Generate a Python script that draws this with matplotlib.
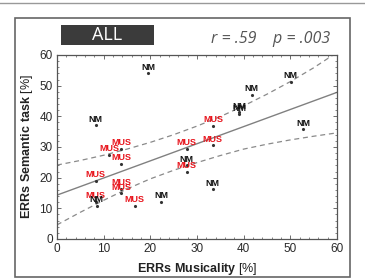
import matplotlib
matplotlib.use("Agg")
import matplotlib.pyplot as plt
from matplotlib.patches import Rectangle
from matplotlib.lines import Line2D
from matplotlib.ticker import MultipleLocator

plt.rcParams['font.family'] = ['Liberation Sans', 'DejaVu Sans']
plt.rcParams['mathtext.fontset'] = 'custom'
plt.rcParams['mathtext.rm'] = 'Liberation Sans'
plt.rcParams['mathtext.bf'] = 'Liberation Sans:bold'

# musicians
mus_x = [33.5, 33.4, 27.8, 27.8, 13.8, 11.2, 13.8, 8.3, 13.8, 13.8, 16.7, 8.3]
mus_y = [37.0, 30.5, 29.3, 21.8, 29.3, 27.4, 24.6, 19.0, 16.3, 14.9, 10.9, 12.2]
# non-musicians
nm_x = [19.5, 8.3, 39.0, 39.1, 41.7, 50.1, 52.8, 27.8, 33.4, 22.4, 8.5]
nm_y = [54.0, 37.1, 41.3, 40.6, 46.9, 51.2, 35.7, 24.0, 16.2, 12.2, 10.9]

# regression line and confidence band
fit_x = [0, 60]
fit_y = [14.3, 47.8]
band_x = [0, 5, 10, 15, 20, 25, 30, 35, 40, 45, 50, 55, 60]
band_hi = [24.1, 25.6, 27.3, 29.3, 31.5, 34.0, 36.8, 39.9, 43.4, 47.2, 51.3, 55.8, 60.8]
band_lo = [4.6, 8.7, 12.6, 16.3, 19.6, 22.4, 24.9, 27.2, 29.3, 30.9, 32.3, 33.5, 34.6]

fig = plt.figure(figsize=(3.65, 2.79), dpi=100)
ax = fig.add_axes([0.156, 0.1434, 0.767, 0.6596])

ax.plot(fit_x, fit_y, color='#808080', lw=1.0, zorder=1)
ax.plot(band_x, band_hi, color='#8a8a8a', lw=0.9, ls=(0, (4, 3)), zorder=1)
ax.plot(band_x, band_lo, color='#8a8a8a', lw=0.9, ls=(0, (4, 3)), zorder=1)

ax.plot(mus_x, mus_y, ls='none', marker='.', ms=2.5, color='#333333', zorder=2)
ax.plot(nm_x, nm_y, ls='none', marker='.', ms=2.5, color='#333333', zorder=2)

for x, y in zip(mus_x, mus_y):
    ax.annotate('MUS', (x, y), textcoords='offset points', xytext=(0, 1.2),
                ha='center', va='bottom', fontsize=6.5, fontweight='bold',
                color='#e8141c', zorder=3)
for x, y in zip(nm_x, nm_y):
    ax.annotate('NM', (x, y), textcoords='offset points', xytext=(0, 1.2),
                ha='center', va='bottom', fontsize=6.5, fontweight='bold',
                color='#111111', zorder=3)

ax.set_xlim(0, 60)
ax.set_ylim(0, 60)
ax.xaxis.set_major_locator(MultipleLocator(10))
ax.yaxis.set_major_locator(MultipleLocator(10))
ax.xaxis.set_minor_locator(MultipleLocator(2))
ax.yaxis.set_minor_locator(MultipleLocator(2))
ax.tick_params(which='both', direction='in', top=True, right=True,
               colors='#555555', labelcolor='#2a2a2a', labelsize=8.5)
ax.tick_params(which='major', length=3, width=0.6, pad=3)
ax.tick_params(which='minor', length=1.5, width=0.5)
for s in ax.spines.values():
    s.set_color('#555555')
    s.set_linewidth(0.9)

ax.set_xlabel(r'$\mathbf{ERRs\ Musicality}$ [%]', fontsize=9, color='#222222', labelpad=4)
ax.set_ylabel(r'$\mathbf{ERRs\ Semantic\ task}$ [%]', fontsize=9, color='#222222', labelpad=3)

# frame and header
fig.add_artist(Line2D([0, 1], [0.9875, 0.9875], color='#999999', lw=1.0))
fig.add_artist(Rectangle((0.041, 0.007), 0.918, 0.9285, fill=False,
                         edgecolor='#666666', lw=1.2))
fig.add_artist(Rectangle((0.167, 0.8376), 0.2548, 0.0717,
                         facecolor='#3b3b3b', edgecolor='none'))
fig.text(0.2945, 0.8735, 'ALL', color='white', fontsize=13,
         family='Open Sans', ha='center', va='center')
fig.text(0.904, 0.860, r'r = .59    p = .003', color='#555555', fontsize=11.5,
         family='Open Sans', style='italic', ha='right', va='center')

fig.savefig('out.png', dpi=100)
